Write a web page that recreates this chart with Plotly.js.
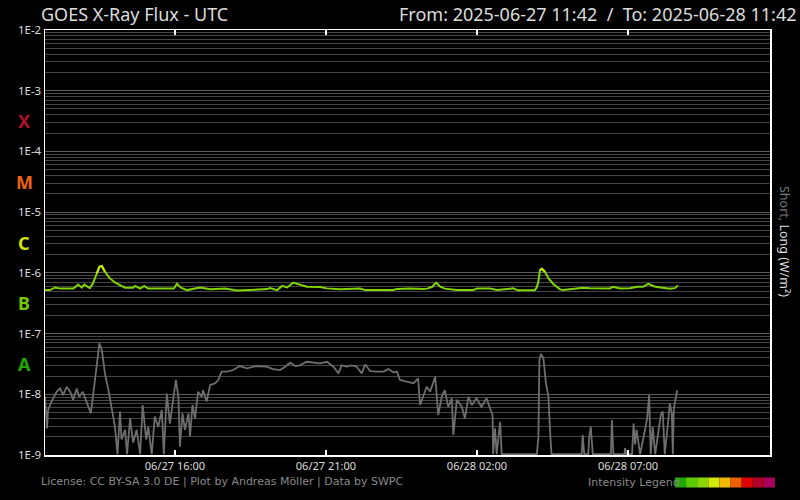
<!DOCTYPE html>
<html><head><meta charset="utf-8">
<script src="https://cdn.plot.ly/plotly-3.0.1.min.js"></script>
<style>html,body{margin:0;padding:0;background:#000;}#chart{width:800px;height:500px;}</style>
</head><body><div id="chart"></div>
<script>
// minutes since 2025-06-27 11:42 UTC
const longT = [0,10,20,30,56,66,73,78,89,95,103,108,113,119,129,139,149,159,175,179,189,197,205,238,256,262,270,282,308,328,348,358,381,413,441,447,461,471,481,493,506,520,546,560,586,606,626,636,691,699,725,751,759,769,777,785,794,818,850,858,884,898,924,930,939,973,977,980,983,987,993,1000,1010,1023,1029,1057,1069,1082,1102,1122,1128,1142,1162,1176,1188,1198,1212,1227,1241,1251,1257];
const longV = [5.2e-7,5.2e-7,5.75e-7,5.5e-7,5.5e-7,6.4e-7,5.7e-7,6.4e-7,5.6e-7,6.7e-7,9.8e-7,1.26e-6,1.30e-6,1.04e-6,8.1e-7,6.95e-7,6.3e-7,5.7e-7,5.7e-7,6.1e-7,5.5e-7,6.1e-7,5.5e-7,5.55e-7,5.5e-7,6.6e-7,5.7e-7,5.2e-7,5.75e-7,5.35e-7,5.35e-7,5.5e-7,5.1e-7,5.2e-7,5.4e-7,5.6e-7,5.2e-7,6.1e-7,5.75e-7,6.9e-7,6.45e-7,5.9e-7,5.85e-7,5.55e-7,5.35e-7,5.5e-7,5.5e-7,5.2e-7,5.2e-7,5.4e-7,5.5e-7,5.4e-7,5.5e-7,5.9e-7,6.9e-7,5.9e-7,5.5e-7,5.2e-7,5.2e-7,5.5e-7,5.5e-7,5.2e-7,5.4e-7,5.55e-7,5.15e-7,5.15e-7,5.85e-7,7.2e-7,1.11e-6,1.17e-6,1.04e-6,8.1e-7,6.5e-7,5.35e-7,5.2e-7,5.55e-7,5.7e-7,5.6e-7,5.55e-7,5.55e-7,5.9e-7,5.55e-7,5.6e-7,5.9e-7,5.9e-7,6.6e-7,5.9e-7,5.75e-7,5.5e-7,5.6e-7,6.2e-7];

const shortT = [0,4,6,13,23,30,36,43,50,56,63,68,75,83,91,96,103,108,113,119,126,132,139,144,149,152,159,163,169,175,182,189,194,201,205,212,218,225,232,236,242,248,255,260,265,268,273,278,285,288,293,298,304,311,314,321,328,338,344,351,361,374,387,401,420,440,453,467,477,487,497,506,520,533,546,560,573,583,589,599,609,619,629,636,646,659,672,682,692,699,705,718,732,741,745,751,758,765,775,781,788,794,801,808,811,818,828,834,841,848,857,867,877,884,889,890,894,897,904,907,977,980,982,985,990,995,1000,1003,1006,1066,1068,1071,1079,1081,1084,1088,1124,1126,1129,1151,1152,1155,1166,1169,1172,1175,1182,1188,1192,1196,1200,1203,1207,1212,1218,1223,1227,1231,1238,1241,1245,1247,1249,1253,1256];
const shortV = [9.1e-9,2.75e-9,5.5e-9,7.6e-9,1.1e-8,1.25e-8,9.7e-9,1.33e-8,1.1e-8,8.1e-9,1.25e-8,9.1e-9,1.1e-8,7.1e-9,4.85e-9,1.03e-8,3.24e-8,6.9e-8,5.36e-8,2.21e-8,1.17e-8,6.2e-9,2.9e-9,1.03e-9,5.2e-9,1.8e-9,2.6e-9,1.03e-9,4.0e-9,1.6e-9,2.6e-9,1.03e-9,6.65e-9,1.8e-9,2.9e-9,1.03e-9,4.3e-9,2.9e-9,5.5e-9,1.03e-9,1.03e-8,3.3e-9,8.6e-9,1.72e-8,9.1e-9,1.37e-9,4.85e-9,2.6e-9,4.85e-9,2.0e-9,6.65e-9,4.0e-9,1.1e-8,9.1e-9,1.17e-8,7.6e-9,1.42e-8,1.52e-8,1.72e-8,2.36e-8,2.36e-8,2.51e-8,2.92e-8,2.68e-8,2.92e-8,2.85e-8,2.6e-8,2.51e-8,2.85e-8,3.31e-8,2.92e-8,3.0e-8,3.43e-8,3.31e-8,3.24e-8,3.43e-8,2.85e-8,2.21e-8,3.0e-8,2.85e-8,3.0e-8,2.85e-8,2.21e-8,3.1e-8,2.4e-8,2.36e-8,2.36e-8,2.6e-8,2.3e-8,2.36e-8,1.72e-8,1.62e-8,1.52e-8,1.83e-8,6.65e-9,9.1e-9,1.33e-8,1.1e-8,1.95e-8,4.55e-9,9.1e-9,1.17e-8,6.2e-9,8.6e-9,2.13e-9,8.1e-9,6.2e-9,4.0e-9,9.1e-9,6.65e-9,8.6e-9,6.2e-9,8.6e-9,5.87e-9,4.55e-9,1.03e-9,2.75e-9,1.03e-9,3.5e-9,1.03e-9,1.03e-9,2.0e-9,3.66e-8,4.6e-8,3.9e-8,1.52e-8,9.1e-9,2.6e-9,1.03e-9,1.03e-9,2.13e-9,1.03e-9,1.03e-9,2.0e-9,2.9e-9,1.03e-9,1.03e-9,3.77e-9,1.03e-9,1.03e-9,1.3e-9,1.03e-9,1.03e-9,3.3e-9,1.5e-9,2.6e-9,1.03e-9,1.8e-9,2.6e-9,4.0e-9,9.7e-9,1.03e-9,2.9e-9,1.03e-9,2.3e-9,4.55e-9,5.2e-9,1.03e-9,3.77e-9,7.1e-9,4.85e-9,1.03e-9,5.9e-9,9.1e-9,1.17e-8];

const tickVals = [1e-9,1e-8,1e-7,1e-6,1e-5,1e-4,1e-3,1e-2];
const tickText = ['1E-9','1E-8','1E-7','1E-6','1E-5','1E-4','1E-3','1E-2'];
const xTickVals = ['2025-06-27 16:00','2025-06-27 21:00','2025-06-28 02:00','2025-06-28 07:00'];
const xTickText = ['06/27 16:00','06/27 21:00','06/28 02:00','06/28 07:00'];
const classLetters = ['A','B','C','M','X'];
const classPos = [3.16e-8,3.16e-7,3.16e-6,3.16e-5,3.16e-4];
const classColors = ['#22a800','#74c800','#d2e400','#ee6410','#b0102c'];
const legendColors = ['#1ea800','#5ccc00','#8cd800','#d4e800','#f0b800','#ec6000','#e00000','#b00028','#a8005c'];

const start = Date.UTC(2025,5,27,11,42);
const toDate = m => new Date(start + m*60000).toISOString().slice(0,19).replace('T',' ');
const lx = longT.map(toDate), sx = shortT.map(toDate);
const peakV = longV.map(v => v >= 9e-7 ? v : null);

const minorVals = [];
for (let e=-9; e<-2; e++) for (let k=2; k<=9; k++) minorVals.push(k*Math.pow(10,e));

const W = 725, H = 425, L = 45, T = 30;
const px = x => (x - L)/W, py = y => (T + H - y)/H;

const shapes = legendColors.map((c,i)=>({type:'rect',xref:'paper',yref:'paper',
  x0:px(675+i*11.1),x1:px(675+(i+1)*11.1),y0:py(487.5),y1:py(477.5),fillcolor:c,line:{width:0}}));

const annotations = [
  {text:'GOES X-Ray Flux - UTC',xref:'paper',yref:'paper',x:px(39),y:py(14),xanchor:'left',yanchor:'middle',showarrow:false,font:{family:'Noto Sans',size:18,color:'#dddddd'}},
  {text:'From: 2025-06-27 11:42  /  To: 2025-06-28 11:42',xref:'paper',yref:'paper',x:px(799),y:py(14),xanchor:'right',yanchor:'middle',showarrow:false,font:{family:'Noto Sans',size:18,color:'#dddddd'}},
  {text:'License: CC BY-SA 3.0 DE | Plot by Andreas Möller | Data by SWPC',xref:'paper',yref:'paper',x:px(39),y:py(481),xanchor:'left',yanchor:'middle',showarrow:false,font:{family:'DejaVu Sans',size:11,color:'#8a8a8a'}},
  {text:'Intensity Legend',xref:'paper',yref:'paper',x:px(682),y:py(482),xanchor:'right',yanchor:'middle',showarrow:false,font:{family:'DejaVu Sans',size:11,color:'#8a8a8a'}},
  {text:'<span style="color:#7a7a7a">Short, </span><span style="color:#dddddd">Long (W/m²)</span>',xref:'paper',yref:'paper',x:px(785),y:py(241),xanchor:'center',yanchor:'middle',textangle:90,showarrow:false,font:{family:'Noto Sans',size:12.5,color:'#dddddd'}}
];
classLetters.forEach((l,i)=>annotations.push({text:l,xref:'paper',yref:'y',x:px(24),y:Math.log10(classPos[i]),xanchor:'center',yanchor:'middle',showarrow:false,font:{family:'Noto Sans',size:18,weight:'bold',color:classColors[i]}}));

const data = [
  {x:sx,y:shortV,type:'scatter',mode:'lines',line:{color:'#6e6e6e',width:1.8},hoverinfo:'skip'},
  {x:lx,y:longV,type:'scatter',mode:'lines',line:{color:'#80d400',width:2},hoverinfo:'skip'},
  {x:lx,y:peakV,type:'scatter',mode:'lines',connectgaps:false,line:{color:'#cce800',width:2},hoverinfo:'skip'}
];

const layout = {
  width:800,height:500,paper_bgcolor:'#000',plot_bgcolor:'#000',showlegend:false,
  margin:{l:45,r:30,t:30,b:45},
  xaxis:{type:'date',range:['2025-06-27 11:42','2025-06-28 11:42'],tickmode:'array',tickvals:xTickVals,ticktext:xTickText,
    ticks:'inside',ticklen:5,tickwidth:1.5,tickcolor:'#ffffff',showgrid:false,zeroline:false,
    showline:true,linecolor:'#ffffff',linewidth:1.5,mirror:'ticks',
    tickfont:{family:'Noto Sans',size:11,color:'#dddddd'}},
  yaxis:{type:'log',range:[-9,-2],tickmode:'array',tickvals:tickVals,ticktext:tickText,ticks:'',
    showgrid:true,gridcolor:'#5c5c5c',gridwidth:1,zeroline:false,
    minor:{tickmode:'array',tickvals:minorVals,showgrid:true,gridcolor:'#454545',gridwidth:1,ticks:''},
    showline:true,linecolor:'#ffffff',linewidth:1.5,mirror:true,
    tickfont:{family:'Noto Sans',size:11.5,color:'#dddddd'}},
  shapes:shapes,annotations:annotations
};
Plotly.newPlot('chart',data,layout,{displayModeBar:false,staticPlot:true});
</script></body></html>
